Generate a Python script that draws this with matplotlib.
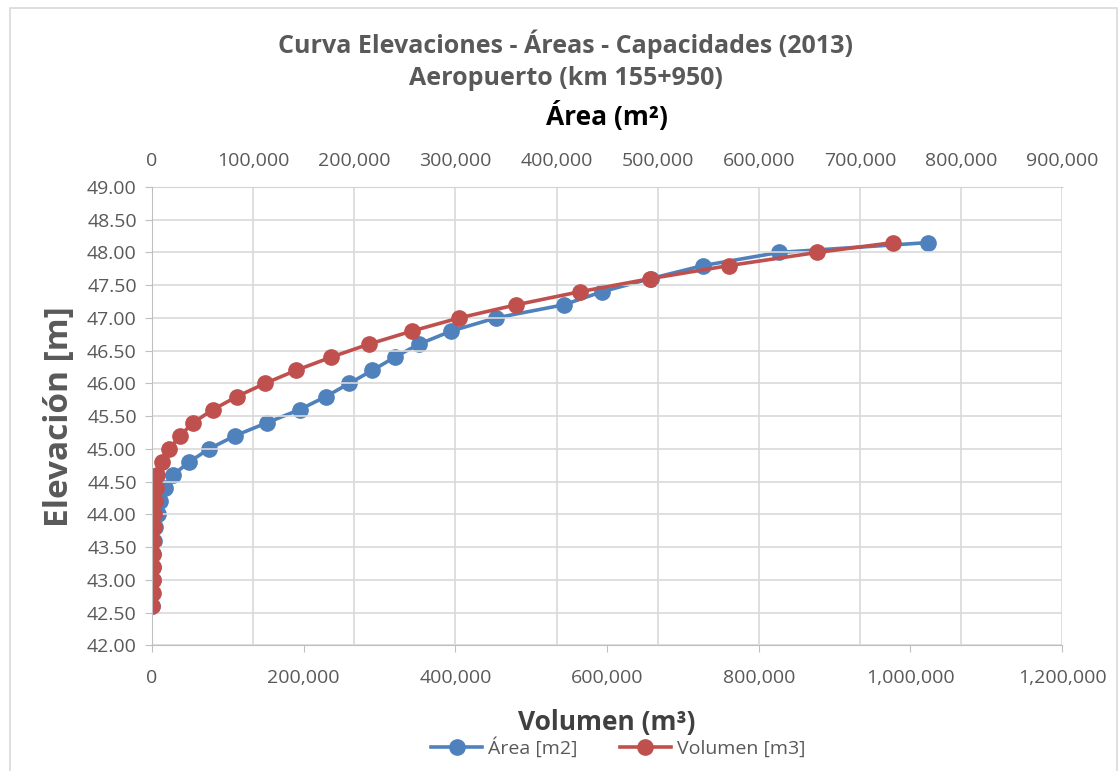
import matplotlib.pyplot as plt
from matplotlib.ticker import FuncFormatter, MultipleLocator
from matplotlib.patches import Rectangle

plt.rcParams['font.family'] = ['Open Sans', 'DejaVu Sans']

# Datos
elevacion = [42.6, 42.8, 43.0, 43.2, 43.4, 43.6, 43.8, 44.0, 44.2, 44.4,
             44.6, 44.8, 45.0, 45.2, 45.4, 45.6, 45.8, 46.0, 46.2, 46.4,
             46.6, 46.8, 47.0, 47.2, 47.4, 47.6, 47.8, 48.0, 48.15]
area = [200, 400, 600, 900, 1200, 1700, 3000, 6000, 8000, 12900,
        20800, 36600, 56400, 82000, 113700, 146000, 172000, 195000, 218000, 240000,
        264000, 296000, 340000, 407000, 445000, 493000, 545000, 620000, 767000]
volumen = [500, 800, 1000, 1200, 1500, 1800, 2200, 2700, 3500, 5000,
           7000, 12800, 22800, 36900, 54000, 80400, 112000, 149000, 190000, 236000,
           286000, 343000, 405000, 480000, 564000, 657000, 761000, 877000, 977000]

azul = '#4F81BD'
rojo = '#C0504D'
gris_txt = '#595959'
gris_grid = '#D9D9D9'

fig = plt.figure(figsize=(11.18, 7.71), dpi=100)
ax = fig.add_axes([0.136, 0.163, 0.814, 0.5945])
ax2 = ax.twiny()
ax.set_zorder(ax2.get_zorder() + 1)
ax.patch.set_visible(False)

# Área (eje superior)
la, = ax2.plot(area, elevacion, '-o', color=azul, lw=2.6, ms=11, label='Área [m2]')
# Volumen (eje inferior)
lv, = ax.plot(volumen, elevacion, '-o', color=rojo, lw=2.6, ms=11, label='Volumen [m3]')

ax.set_ylim(42, 49)
ax.set_xlim(0, 1200000)
ax2.set_xlim(0, 900000)
ax.yaxis.set_major_locator(MultipleLocator(0.5))
ax.xaxis.set_major_locator(MultipleLocator(200000))
ax2.xaxis.set_major_locator(MultipleLocator(100000))

fmt_miles = FuncFormatter(lambda v, p: f'{v:,.0f}')
ax.xaxis.set_major_formatter(fmt_miles)
ax2.xaxis.set_major_formatter(fmt_miles)
ax.yaxis.set_major_formatter(FuncFormatter(lambda v, p: f'{v:.2f}'))

ax.grid(axis='y', color=gris_grid, lw=1.2)
ax2.grid(axis='x', color=gris_grid, lw=1.2)
ax.set_axisbelow(True)

for a in (ax, ax2):
    for s in a.spines.values():
        s.set_visible(False)
ax.spines['left'].set_visible(True)
ax.spines['left'].set_color('#BFBFBF')
ax.spines['bottom'].set_visible(True)
ax.spines['bottom'].set_color('#BFBFBF')
ax2.spines['top'].set_visible(True)
ax2.spines['top'].set_color('#BFBFBF')

ax.tick_params(axis='y', labelsize=14, colors='#BFBFBF', labelcolor=gris_txt, length=5, pad=6)
ax.tick_params(axis='x', labelsize=14, colors='#BFBFBF', labelcolor=gris_txt, length=5, pad=12)
ax2.tick_params(axis='x', labelsize=14, colors='#BFBFBF', labelcolor=gris_txt, length=0, pad=12)

ax.set_xlabel('Volumen (m³)', fontsize=19, fontweight='bold', color='#404040', labelpad=16)
ax2.set_xlabel('Área (m²)', fontsize=19, fontweight='bold', color='black', labelpad=20)
ax.set_ylabel('Elevación [m]', fontsize=24, fontweight='bold', color=gris_txt, labelpad=8)

fig.text(0.506, 0.943, 'Curva Elevaciones - Áreas - Capacidades (2013)', ha='center', va='center',
         fontsize=18, fontweight='bold', color=gris_txt)
fig.text(0.506, 0.898, 'Aeropuerto (km 155+950)', ha='center', va='center',
         fontsize=18, fontweight='bold', color=gris_txt)

fig.legend(handles=[la, lv], loc='center', bbox_to_anchor=(0.553, 0.03), ncol=2,
           frameon=False, fontsize=14, labelcolor=gris_txt, handlelength=2.6,
           columnspacing=2.2, handletextpad=0.3)

fig.patches.append(Rectangle((0.009, -0.01), 0.99, 1.0, transform=fig.transFigure,
                             fill=False, edgecolor='#D9D9D9', lw=1.2))

plt.savefig('out.png', dpi=100)
